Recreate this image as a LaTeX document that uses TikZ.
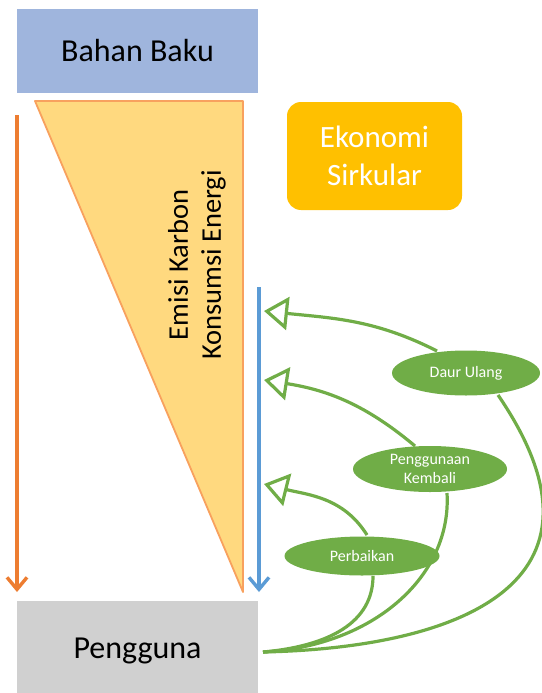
\documentclass[tikz,border=0pt]{standalone}
\usepackage{fontspec}
\setmainfont{Carlito}
\usetikzlibrary{arrows.meta,shapes.geometric}
\definecolor{bbblue}{HTML}{9FB5DD}
\definecolor{pggray}{HTML}{D0D0D0}
\definecolor{ekgold}{HTML}{FFC000}
\definecolor{trifill}{HTML}{FFD97F}
\definecolor{tridraw}{HTML}{F8A15E}
\definecolor{arrorange}{HTML}{ED7D31}
\definecolor{arrblue}{HTML}{5B9BD5}
\definecolor{grn}{HTML}{70AD47}
\tikzset{
  bigbox/.style={minimum width=241pt,inner sep=0pt,font=\fontsize{32}{38}\selectfont},
  loopell/.style={ellipse,fill=grn,text=white,inner sep=0pt,font=\fontsize{16}{19}\selectfont,align=center},
  loopline/.style={draw=grn,line width=3.2pt},
  looparrow/.style={loopline,-{Triangle[open,length=24pt,width=33pt,fill=white]}},
  vline/.style={line width=3.4pt,-{Straight Barb[length=12pt,width=20pt]}}
}
\begin{document}
\begin{tikzpicture}[x=1pt,y=-1pt]
\useasboundingbox (0,0) rectangle (541,693);
% boxes
\node[bigbox,fill=bbblue,minimum height=84pt] (bahan) at (137.5,51) {Bahan Baku};
\node[bigbox,fill=pggray,minimum height=100pt] (pengguna) at (137.5,651) {Pengguna};
\node[fill=ekgold,rounded corners=14pt,minimum width=175pt,minimum height=108pt,text=white,align=center,inner sep=0pt,font=\fontsize{31}{38}\selectfont] (eko) at (374.5,156) {Ekonomi\\Sirkular};
% triangle
\coordinate (t1) at (35,101);
\coordinate (t2) at (243,101);
\coordinate (t3) at (243,592);
\filldraw[fill=trifill,draw=tridraw,line width=1.8pt,line join=round] (t1) -- (t2) -- (t3) -- cycle;
\node[rotate=90,align=center,font=\fontsize{28.5}{33}\selectfont] (emisi) at (197,265) {Emisi Karbon\\Konsumsi Energi};
% vertical arrows
\coordinate (o1) at (17,115);
\coordinate (o2) at (17,592);
\draw[vline,draw=arrorange] (o1) -- (o2);
\coordinate (b1) at (259,287);
\coordinate (b2) at (259,592);
\draw[vline,draw=arrblue] (b1) -- (b2);
% ellipses
\node[loopell,minimum width=148pt,minimum height=45pt] (daur) at (466,373) {Daur Ulang};
\node[loopell,minimum width=154pt,minimum height=46pt] (guna) at (430,469) {Penggunaan\\Kembali};
\node[loopell,minimum width=155pt,minimum height=39pt] (baik) at (362,556) {Perbaikan};
% loop lines from Pengguna
\coordinate (pg) at (263,652);
\coordinate (e1) at (373,576);
\coordinate (e2) at (447,493);
\coordinate (e3) at (498,395);
\draw[loopline] (pg) .. controls (330,646) and (373,622) .. (e1);
\draw[loopline] (pg) .. controls (375,646) and (452,575) .. (e2);
\draw[loopline] (pg) .. controls (455,648) and (628,585) .. (e3);
% arrows to blue line
\coordinate (a1) at (264,311);
\coordinate (a2) at (264,380);
\coordinate (a3) at (264,484);
\draw[looparrow] (437,351) to[out=153,in=-6] (a1);
\draw[looparrow] (415,446) to[out=140,in=-9] (a2);
\draw[looparrow] (367,535) to[out=122,in=-14] (a3);
\end{tikzpicture}
\end{document}
